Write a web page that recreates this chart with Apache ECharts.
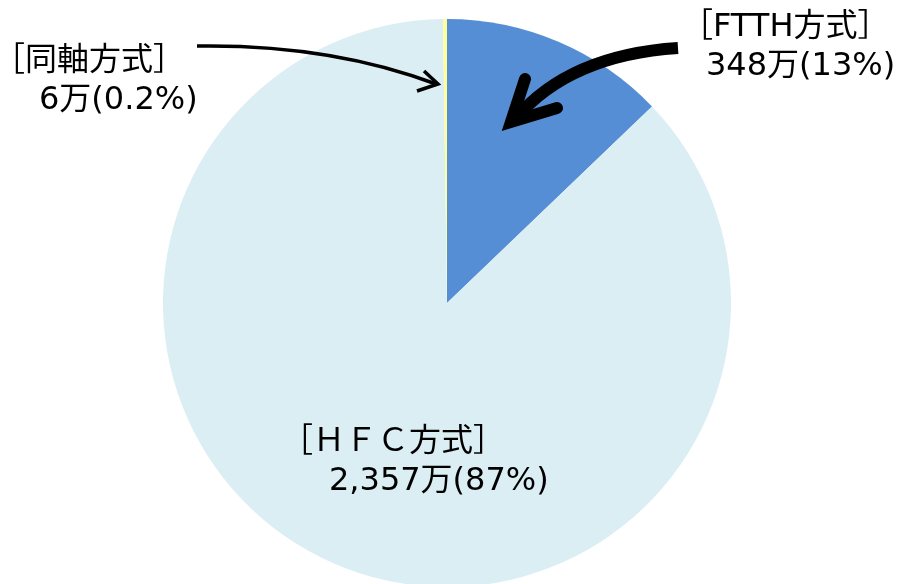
<!DOCTYPE html>
<html>
<head>
<meta charset="utf-8">
<script src="https://cdn.jsdelivr.net/npm/echarts@6/dist/echarts.min.js"></script>
<style>
html, body { margin: 0; padding: 0; background: #fff; }
#main { width: 899px; height: 584px; }
</style>
</head>
<body>
<div id="main"></div>
<script>
// 方式ごとの加入数（万）
const names = ['FTTH方式', 'ＨＦＣ方式', '同軸方式']
const values = [348, 2357, 6]
const shares = ['13%', '87%', '0.2%']
const colors = ['#558ED5', '#DBEEF4', '#FFFF99']

const chart = echarts.init(document.getElementById('main'))
const font = '32px "DejaVu Sans", "Noto Sans CJK JP", sans-serif'

// ラベル位置 [1行目x, 1行目y, 2行目x, 2行目y]
const labelPos = [
	[681, 28, 706, 67],
	[281, 443, 329, 482],
	[-7, 62, 39, 101]
]

const graphics = []
names.forEach((n, i) => {
	const p = labelPos[i]
	graphics.push({
		type: 'text', x: p[0], y: p[1], z: 10,
		style: { text: '［' + n + '］', font: font, fill: '#000', verticalAlign: 'middle' }
	})
	graphics.push({
		type: 'text', x: p[2], y: p[3], z: 10,
		style: {
			text: values[i].toLocaleString('en-US') + '万(' + shares[i] + ')',
			font: font, fill: '#000', verticalAlign: 'middle'
		}
	})
})

// 矢印（同軸）
graphics.push({
	type: 'bezierCurve', z: 10,
	shape: { x1: 197, y1: 46, x2: 436, y2: 84, cpx1: 330, cpy1: 44 },
	style: { stroke: '#000', lineWidth: 3.5, fill: null }
})
graphics.push({
	type: 'polyline', z: 10,
	shape: { points: [[424, 71], [438, 84], [417, 91]] },
	style: { stroke: '#000', lineWidth: 3.5, lineJoin: 'miter' }
})
// 矢印（FTTH）
graphics.push({
	type: 'bezierCurve', z: 10,
	shape: { x1: 678, y1: 48, x2: 516, y2: 118, cpx1: 570, cpy1: 55 },
	style: { stroke: '#000', lineWidth: 12, fill: null }
})
graphics.push({
	type: 'polyline', z: 10,
	shape: { points: [[525, 79], [511, 122], [557, 108]] },
	style: { stroke: '#000', lineWidth: 12, lineJoin: 'miter', lineCap: 'round' }
})

chart.setOption({
	animation: false,
	series: [{
		type: 'pie',
		center: [447, 303],
		radius: 284,
		startAngle: 90,
		clockwise: true,
		label: { show: false },
		labelLine: { show: false },
		emphasis: { disabled: true },
		data: names.map((n, i) => ({
			name: n,
			value: values[i],
			itemStyle: { color: colors[i] }
		}))
	}],
	graphic: graphics
})
</script>
</body>
</html>
